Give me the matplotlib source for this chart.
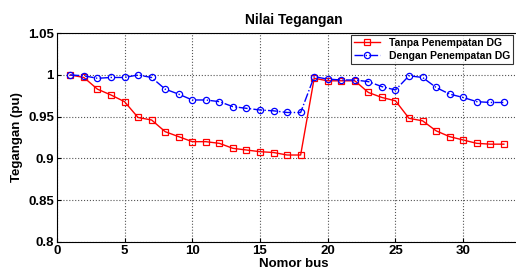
import matplotlib
matplotlib.use('Agg')
import matplotlib.pyplot as plt

plt.rcParams['font.family'] = ['Liberation Sans', 'DejaVu Sans']
plt.rcParams['font.weight'] = 'bold'

bus = list(range(1, 34))

# Tegangan tanpa penempatan DG (pu)
tanpa_dg = [1.000, 0.997, 0.983, 0.976, 0.968, 0.949, 0.946, 0.932, 0.926, 0.920,
            0.920, 0.918, 0.912, 0.910, 0.908, 0.907, 0.904, 0.904, 0.996, 0.993,
            0.993, 0.993, 0.979, 0.973, 0.969, 0.948, 0.945, 0.933, 0.926, 0.922,
            0.918, 0.917, 0.917]

# Tegangan dengan penempatan DG (pu)
dengan_dg = [1.000, 0.999, 0.996, 0.997, 0.997, 1.000, 0.997, 0.983, 0.977, 0.970,
             0.970, 0.968, 0.962, 0.960, 0.958, 0.957, 0.955, 0.955, 0.998, 0.995,
             0.994, 0.994, 0.992, 0.986, 0.982, 0.999, 0.997, 0.985, 0.977, 0.973,
             0.968, 0.967, 0.967]

xticks = [0, 5, 10, 15, 20, 25, 30]
yticks = [0.8, 0.85, 0.9, 0.95, 1.0, 1.05]
ytick_labels = ['0.8', '0.85', '0.9', '0.95', '1', '1.05']

fig = plt.figure(figsize=(5.16, 2.75), dpi=100)
ax = fig.add_axes([0.110, 0.121, 0.919, 0.758])

ax.plot(bus, tanpa_dg, color='#ff0000', linestyle='-', linewidth=1.0,
        marker='s', markersize=5, markerfacecolor='none', markeredgewidth=0.9,
        label='Tanpa Penempatan DG')
ax.plot(bus, dengan_dg, color='#0000ff', linestyle='-.', linewidth=1.0,
        marker='o', markersize=4.5, markerfacecolor='none', markeredgewidth=0.9,
        label='Dengan Penempatan DG')

ax.set_xlim(0, 35)
ax.set_ylim(0.8, 1.05)
ax.set_xticks(xticks)
ax.set_yticks(yticks)
ax.set_yticklabels(ytick_labels)
ax.tick_params(labelsize=9.5, direction='in', length=3, pad=2)
ax.grid(True, linestyle=':', color='#555555', linewidth=0.8)

ax.set_title('Nilai Tegangan', fontsize=10, fontweight='bold', pad=7)
ax.set_xlabel('Nomor bus', fontsize=9.5, fontweight='bold', labelpad=1)
ax.set_ylabel('Tegangan (pu)', fontsize=9.5, fontweight='bold', labelpad=4)

leg = ax.legend(loc='upper right', bbox_to_anchor=(513 / 516, 1 - 35 / 275),
                bbox_transform=fig.transFigure, fontsize=7.5, frameon=True,
                fancybox=False, edgecolor='black', borderpad=0.3,
                labelspacing=0.25, handlelength=2.5, borderaxespad=0)
leg.get_frame().set_linewidth(0.8)

fig.savefig('out.png', dpi=100)
